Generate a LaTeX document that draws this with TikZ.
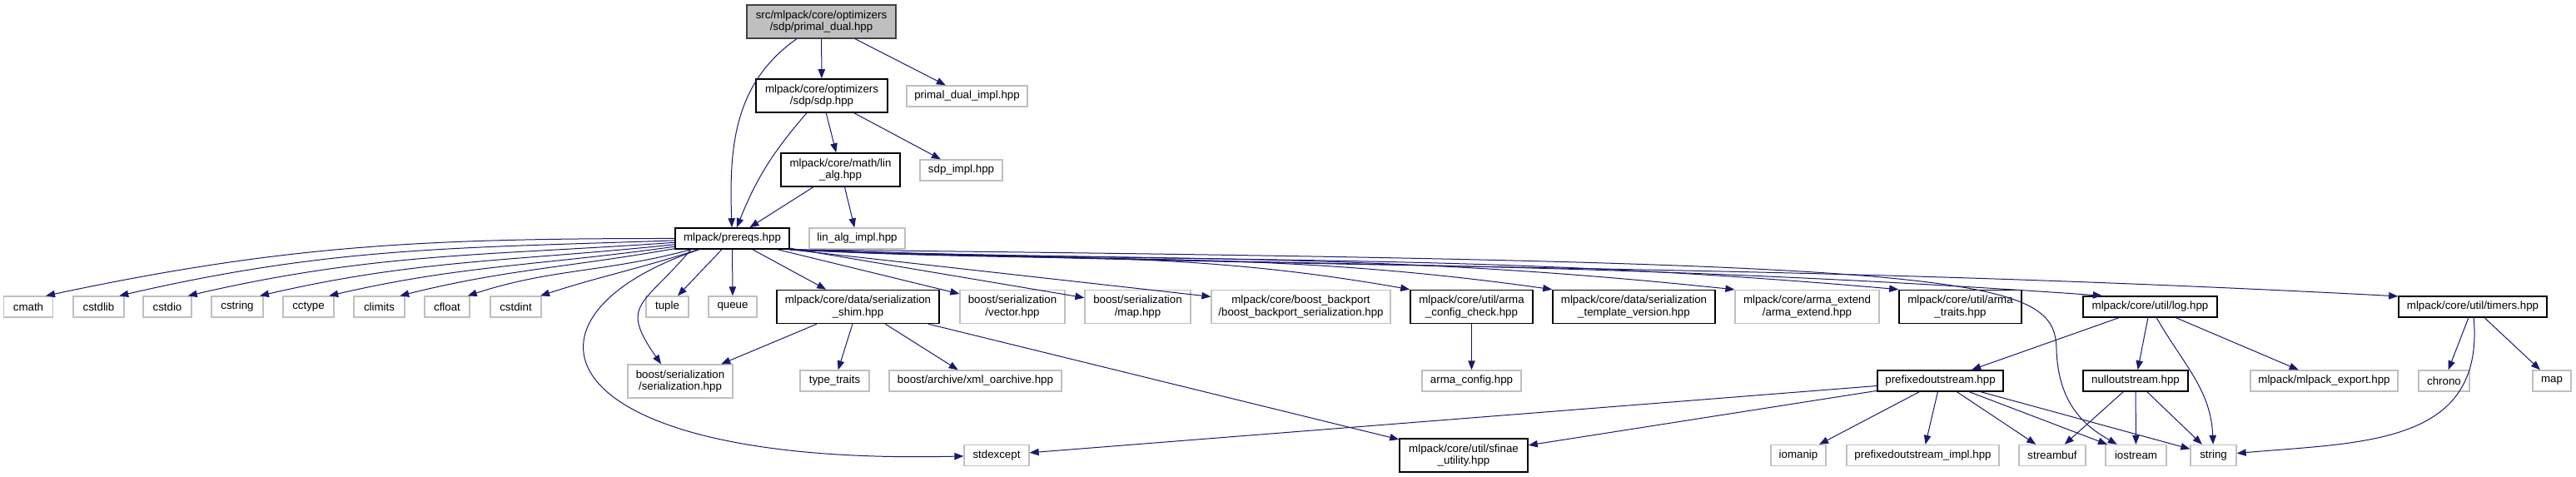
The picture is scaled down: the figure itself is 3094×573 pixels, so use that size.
\documentclass[tikz,border=0pt]{standalone}
\usepackage{fontspec}
\setmainfont{Liberation Sans}
\usepackage{xcolor}
\usepackage{tikz}
\usetikzlibrary{arrows.meta}

\definecolor{edgeblue}{HTML}{191970}
\definecolor{extgray}{HTML}{BFBFBF}
\definecolor{rootline}{HTML}{404040}

\begin{document}
\begin{tikzpicture}[x=0.25pt, y=0.25pt,
    hdr/.style={draw=black, line width=0.4pt, inner sep=0pt, align=center,
      font=\fontsize{3.325}{3.625}\selectfont},
    exthdr/.style={hdr, draw=extgray, line width=0.325pt},
    roothdr/.style={hdr, draw=rootline, fill=extgray},
    oneline/.style={minimum height=6.25pt},
    twoline/.style={minimum height=10pt},
    inc/.style={draw=edgeblue, line width=0.25pt, -{Triangle[length=2.75pt, width=2.1pt]}}]
  \useasboundingbox (0,0) rectangle (3094,-573);

  % Top of the graph
  \node[roothdr, twoline, minimum width=44.75pt] (primaldual) at (986.5,-26) {src/mlpack/core/optimizers\\/sdp/primal\_dual.hpp};
  \node[hdr, twoline, minimum width=39.5pt] (sdp) at (987,-115) {mlpack/core/optimizers\\/sdp/sdp.hpp};
  \node[exthdr, oneline, minimum width=36.25pt] (pdimpl) at (1161.5,-115.5) {primal\_dual\_impl.hpp};
  \node[hdr, twoline, minimum width=35.75pt] (linalg) at (1009.5,-204) {mlpack/core/math/lin\\\_alg.hpp};
  \node[exthdr, oneline, minimum width=24.75pt] (sdpimpl) at (1154.5,-204.5) {sdp\_impl.hpp};
  \node[hdr, oneline, minimum width=34.25pt] (prereqs) at (879.5,-286.5) {mlpack/prereqs.hpp};
  \node[exthdr, oneline, minimum width=28.75pt] (linalgimpl) at (1029.5,-286.5) {lin\_alg\_impl.hpp};

  % Standard headers
  \node[exthdr, oneline, minimum width=14.75pt] (cmath) at (34,-368.5) {cmath};
  \node[exthdr, oneline, minimum width=15.25pt] (cstdlib) at (118.5,-368.5) {cstdlib};
  \node[exthdr, oneline, minimum width=14.5pt] (cstdio) at (201,-368.5) {cstdio};
  \node[exthdr, oneline, minimum width=15.5pt] (cstring) at (285,-368.5) {cstring};
  \node[exthdr, oneline, minimum width=15.25pt] (cctype) at (370.5,-368.5) {cctype};
  \node[exthdr, oneline, minimum width=15.25pt] (climits) at (455.5,-368.5) {climits};
  \node[exthdr, oneline, minimum width=13.5pt] (cfloat) at (537,-368.5) {cfloat};
  \node[exthdr, oneline, minimum width=15.25pt] (cstdint) at (619.5,-368.5) {cstdint};
  \node[exthdr, oneline, minimum width=12.75pt] (tuple) at (801.5,-368.5) {tuple};
  \node[exthdr, oneline, minimum width=14.5pt] (queue) at (880,-368.5) {queue};

  % Second row
  \node[hdr, twoline, minimum width=48.75pt] (shim) at (1030.5,-368.5) {mlpack/core/data/serialization\\\_shim.hpp};
  \node[exthdr, twoline, minimum width=31.5pt] (vector) at (1216,-368.5) {boost/serialization\\/vector.hpp};
  \node[exthdr, twoline, minimum width=31.75pt] (maphpp) at (1366.5,-368.5) {boost/serialization\\/map.hpp};
  \node[exthdr, twoline, minimum width=53.75pt] (backport) at (1562.5,-368.5) {mlpack/core/boost\_backport\\/boost\_backport\_serialization.hpp};
  \node[hdr, twoline, minimum width=36.75pt] (armacc) at (1767.5,-368.5) {mlpack/core/util/arma\\\_config\_check.hpp};
  \node[hdr, twoline, minimum width=48.75pt] (tplver) at (1962.5,-368.5) {mlpack/core/data/serialization\\\_template\_version.hpp};
  \node[exthdr, twoline, minimum width=43.25pt] (armaext) at (2170.5,-368.5) {mlpack/core/arma\_extend\\/arma\_extend.hpp};
  \node[hdr, twoline, minimum width=36.75pt] (armatraits) at (2354.5,-368.5) {mlpack/core/util/arma\\\_traits.hpp};
  \node[hdr, oneline, minimum width=40.25pt] (log) at (2582.5,-368.5) {mlpack/core/util/log.hpp};
  \node[hdr, oneline, minimum width=44.5pt] (timers) at (2970,-368.5) {mlpack/core/util/timers.hpp};

  % Third row
  \node[exthdr, twoline, minimum width=31.5pt] (serial) at (817,-458) {boost/serialization\\/serialization.hpp};
  \node[exthdr, oneline, minimum width=20.75pt] (typetraits) at (1002.5,-457.5) {type\_traits};
  \node[exthdr, oneline, minimum width=51.75pt] (xmloa) at (1171.5,-457.5) {boost/archive/xml\_oarchive.hpp};
  \node[exthdr, oneline, minimum width=29.75pt] (armaconfig) at (1767.5,-457.5) {arma\_config.hpp};
  \node[hdr, oneline, minimum width=37.75pt] (pos) at (2330.5,-457.5) {prefixedoutstream.hpp};
  \node[hdr, oneline, minimum width=31.5pt] (nos) at (2565,-457.5) {nulloutstream.hpp};
  \node[exthdr, oneline, minimum width=44.25pt] (export) at (2791.5,-457.5) {mlpack/mlpack\_export.hpp};
  \node[exthdr, oneline, minimum width=15.25pt] (chrono) at (2935.5,-457.5) {chrono};
  \node[exthdr, oneline, minimum width=11.5pt] (map) at (3065,-457.5) {map};

  % Bottom row
  \node[exthdr, oneline, minimum width=19.5pt] (stdexcept) at (1197,-547) {stdexcept};
  \node[hdr, twoline, minimum width=38.5pt] (sfinae) at (1758,-547) {mlpack/core/util/sfinae\\\_utility.hpp};
  \node[exthdr, oneline, minimum width=16.5pt] (iomanip) at (2160,-547) {iomanip};
  \node[exthdr, oneline, minimum width=45.75pt] (posimpl) at (2309.5,-547) {prefixedoutstream\_impl.hpp};
  \node[exthdr, oneline, minimum width=20pt] (streambuf) at (2465,-547) {streambuf};
  \node[exthdr, oneline, minimum width=18.25pt] (iostream) at (2565.5,-547) {iostream};
  \node[exthdr, oneline, minimum width=13.75pt] (string) at (2658.5,-547) {string};

  % primal_dual.hpp
  \draw[inc] (primaldual) -- (sdp);
  \draw[inc] (primaldual) -- (pdimpl);
  \draw[inc] (primaldual) to[out=215, in=92] (prereqs);

  % sdp.hpp and lin_alg.hpp
  \draw[inc] (sdp) to[out=229, in=68] (prereqs);
  \draw[inc] (sdp) -- (linalg);
  \draw[inc] (sdp) -- (sdpimpl);
  \draw[inc] (linalg) -- (prereqs);
  \draw[inc] (linalg) -- (linalgimpl);

  % prereqs.hpp, to the left
  \draw[inc] (prereqs) to[out=180, in=12] (cmath.32);
  \draw[inc] (prereqs) to[out=182, in=13] (cstdlib.28);
  \draw[inc] (prereqs) to[out=184, in=13] (cstdio.28);
  \draw[inc] (prereqs) to[out=186, in=13] (cstring.26);
  \draw[inc] (prereqs) to[out=188, in=13] (cctype.28);
  \draw[inc] (prereqs) to[out=190, in=14] (climits.28);
  \draw[inc] (prereqs) to[out=195, in=18] (cfloat.28);
  \draw[inc] (prereqs) to[out=198, in=18] (cstdint.24);
  \draw[inc] (prereqs) -- (tuple);
  \draw[inc] (prereqs) -- (queue);
  \draw[inc] (prereqs.195) to[out=230, in=125, looseness=1.6] (serial.138);
  \draw[inc] (prereqs) .. controls (600,-380) and (650,-560) .. (stdexcept);

  % prereqs.hpp, to the right
  \draw[inc] (prereqs) -- (shim);
  \draw[inc] (prereqs) -- (vector);
  \draw[inc] (prereqs) -- (maphpp);
  \draw[inc] (prereqs.south east) -- (backport);
  \draw[inc] (prereqs.south east) to[out=-3, in=170] (armacc.north west);
  \draw[inc] (prereqs.south east) to[out=-3, in=172] (tplver.north west);
  \draw[inc] (prereqs.south east) to[out=-2, in=174] (armaext.north west);
  \draw[inc] (prereqs.south east) to[out=-2, in=175] (armatraits.north west);
  \draw[inc] (prereqs.south east) to[out=-2, in=176] (log.167);
  \draw[inc] (prereqs.south east) to[out=-2, in=177] (timers.172);
  \draw[inc] (prereqs.south east) .. controls (2380,-315) and (2468,-330) .. (2470,-420)
    .. controls (2472,-490) and (2510,-515) .. (iostream.150);

  % serialization_shim.hpp and arma_config_check.hpp
  \draw[inc] (shim) -- (serial);
  \draw[inc] (shim) -- (typetraits);
  \draw[inc] (shim) -- (xmloa);
  \draw[inc] (shim) -- (sfinae);
  \draw[inc] (armacc) -- (armaconfig);

  % log.hpp and timers.hpp
  \draw[inc] (log) -- (pos);
  \draw[inc] (log) -- (nos);
  \draw[inc] (log) to[out=-60, in=92] (string);
  \draw[inc] (log) -- (export);
  \draw[inc] (timers) -- (chrono);
  \draw[inc] (timers) -- (map);
  \draw[inc] (timers) to[out=-85, in=5, looseness=1.2] (string);

  % prefixedoutstream.hpp and nulloutstream.hpp
  \draw[inc] (pos) -- (stdexcept);
  \draw[inc] (pos) -- (sfinae);
  \draw[inc] (pos) -- (iomanip);
  \draw[inc] (pos) -- (posimpl);
  \draw[inc] (pos) -- (streambuf);
  \draw[inc] (pos) -- (iostream);
  \draw[inc] (pos) -- (string);
  \draw[inc] (nos) -- (streambuf);
  \draw[inc] (nos) -- (iostream);
  \draw[inc] (nos) -- (string);
\end{tikzpicture}
\end{document}
